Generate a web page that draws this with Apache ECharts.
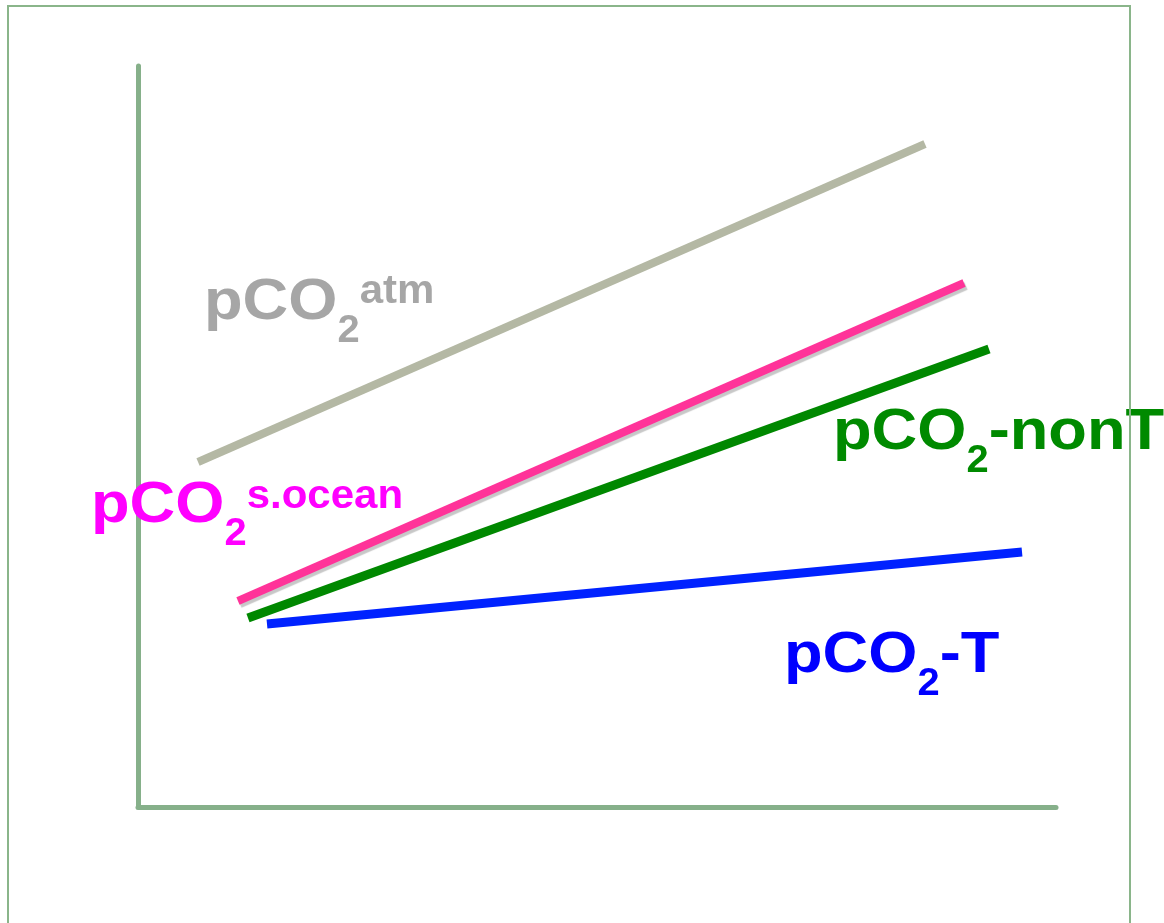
<!DOCTYPE html>
<html>
<head>
<meta charset="utf-8">
<script src="https://cdn.jsdelivr.net/npm/echarts@6/dist/echarts.min.js"></script>
<style>
html,body{margin:0;padding:0;background:#fff;}
#chart{width:1164px;height:923px;}
</style>
</head>
<body>
<div id="chart"></div>
<script>
// Data (arbitrary units, 0-100 on both axes)
const atmLine = [[6.54, 46.56], [85.73, 89.47]];
const oceanLine = [[10.89, 27.80], [89.98, 70.72]];
const nonTLine = [[11.98, 25.51], [92.70, 61.81]];
const tLine = [[14.05, 24.70], [96.30, 34.41]];

// Label texts
const atmLabel = ['pCO', '2', 'atm'];
const oceanLabel = ['pCO', '2', 's.ocean'];
const nonTLabel = ['pCO', '2', '-nonT'];
const tLabel = ['pCO', '2', '-T'];

const axisColor = '#86b08a';
const chart = echarts.init(document.getElementById('chart'));

const cv = document.createElement('canvas').getContext('2d');
function measure(t, s) {
  cv.font = 'bold ' + s + 'px "Liberation Sans", Arial, sans-serif';
  return cv.measureText(t).width;
}
// kinds: main, sub, sup
function buildLabel(x, baseline, texts, kinds, color, supDy) {
  const spec = {
    main: { s: 58, dy: 0, sx: 1.09 },
    sub: { s: 38, dy: 22, sx: 1.05 },
    sup: { s: 40, dy: supDy, sx: 1.05 }
  };
  const els = [];
  let cx = x;
  texts.forEach((t, i) => {
    const k = spec[kinds[i]];
    els.push({
      type: 'text',
      x: cx,
      y: baseline + k.dy - 0.3465 * k.s,
      scaleX: k.sx,
      z: 10,
      style: {
        text: t,
        font: 'bold ' + k.s + 'px "Liberation Sans", Arial, sans-serif',
        fill: color,
        align: 'left',
        verticalAlign: 'middle'
      }
    });
    cx += measure(t, k.s) * k.sx;
  });
  return els;
}

const graphics = [].concat(
  buildLabel(204, 323, atmLabel, ['main', 'sub', 'sup'], '#a6a6a6', -17),
  buildLabel(91, 526, oceanLabel, ['main', 'sub', 'sup'], '#ff00ff', -15),
  buildLabel(833, 453, nonTLabel, ['main', 'sub', 'main'], '#008a00', 0),
  buildLabel(784, 676, tLabel, ['main', 'sub', 'main'], '#0000ff', 0),
  [{
    type: 'rect',
    z: 20,
    shape: { x: 8, y: 6, width: 1122, height: 940 },
    style: { fill: 'none', stroke: '#8ab58a', lineWidth: 2 }
  }]
);

function lineSeries(data, color, width, shadow) {
  const ls = { color: color, width: width, cap: 'butt' };
  if (shadow) {
    ls.shadowColor = 'rgba(0,0,0,0.22)';
    ls.shadowOffsetX = 2;
    ls.shadowOffsetY = 3;
    ls.shadowBlur = 1;
  }
  return {
    type: 'line',
    data: data,
    symbol: 'none',
    silent: true,
    animation: false,
    lineStyle: ls
  };
}

const axisCommon = {
  type: 'value',
  min: 0,
  max: 100,
  axisLine: { show: true, onZero: false, lineStyle: { color: axisColor, width: 5 } },
  axisTick: { show: false },
  axisLabel: { show: false },
  splitLine: { show: false }
};

chart.setOption({
  animation: false,
  backgroundColor: '#ffffff',
  grid: { left: 138, top: 66, right: 108, bottom: 116 },
  xAxis: Object.assign({}, axisCommon),
  yAxis: Object.assign({}, axisCommon),
  series: [
    lineSeries(atmLine, '#b4b8a4', 8, false),
    lineSeries(oceanLine, '#ff3399', 8, true),
    lineSeries(nonTLine, '#008800', 9, false),
    lineSeries(tLine, '#0022ff', 9, false)
  ],
  graphic: graphics
});
</script>
</body>
</html>
